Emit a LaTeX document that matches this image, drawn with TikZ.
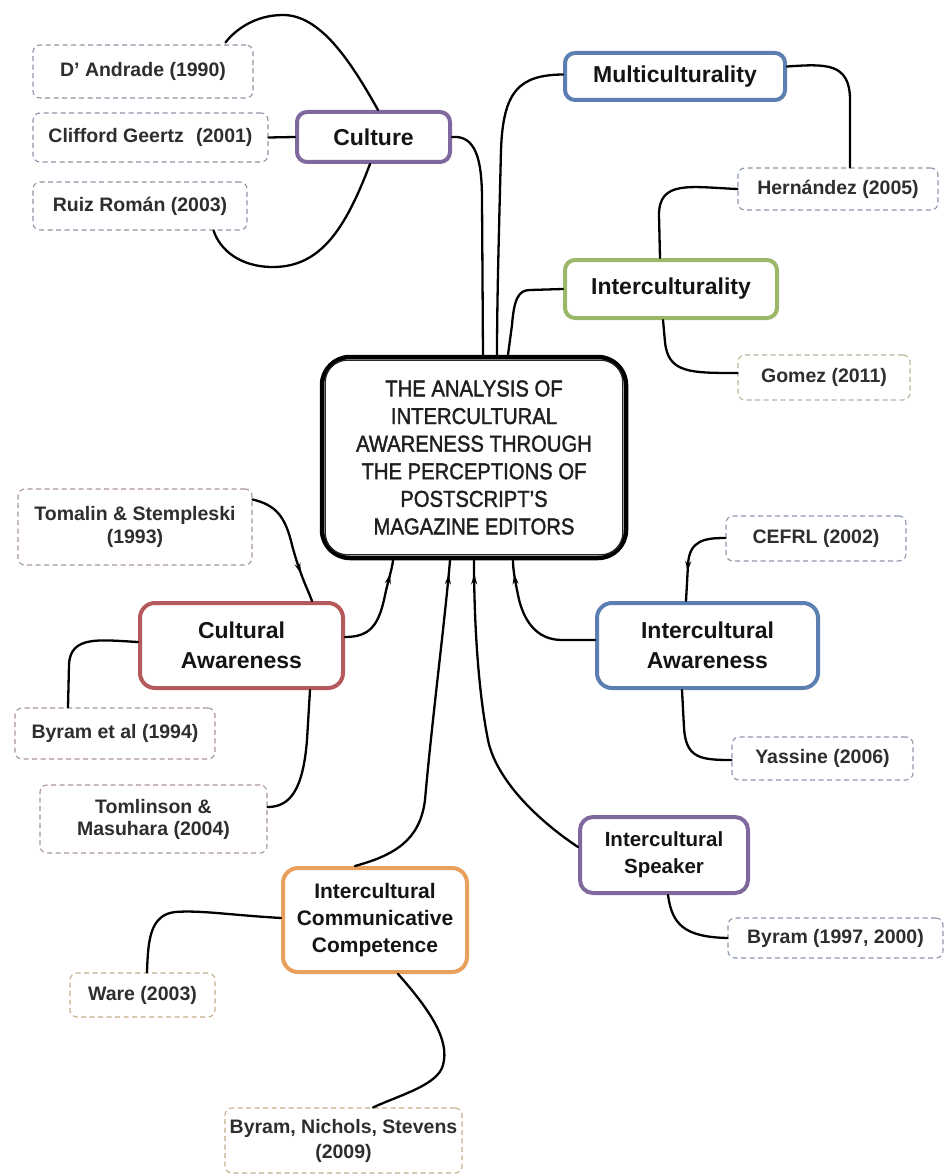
\documentclass[tikz,border=0pt]{standalone}
\usepackage{fontspec}
\setmainfont{Liberation Sans}
\newfontfamily\titlefont[FakeStretch=0.88,FakeBold=1.6]{Liberation Sans}
\usetikzlibrary{arrows.meta,decorations.markings}
\definecolor{cPurple}{RGB}{126,104,158}
\definecolor{cBlue}{RGB}{90,127,176}
\definecolor{cGreen}{RGB}{155,184,104}
\definecolor{cRed}{RGB}{180,90,92}
\definecolor{cOrange}{RGB}{232,160,92}
\definecolor{dPurple}{RGB}{150,144,168}
\definecolor{dBlue}{RGB}{138,152,170}
\definecolor{dGreen}{RGB}{184,180,150}
\definecolor{dRed}{RGB}{170,150,148}
\definecolor{dOrange}{RGB}{196,172,140}
\tikzset{
  topic/.style={draw, line width=4pt, rounded corners=10pt, fill=white, text=black!92,
    align=center, inner sep=2pt, font=\fontsize{23}{30}\selectfont\bfseries},
  cite/.style={draw, dash pattern=on 5pt off 3.5pt, line width=1.1pt, rounded corners=7pt,
    fill=white, text=black!82, align=center, inner sep=2pt,
    font=\fontsize{19.5}{23.5}\selectfont\bfseries},
  mainbox/.style={draw=black, line width=4.5pt, rounded corners=28pt, fill=white,
    align=center, inner sep=2pt, font=\titlefont\fontsize{23}{27.6}\selectfont, text=black!88},
  conn/.style={line width=2.3pt, black, line cap=round},
  connmk/.style={conn, postaction={decorate}, decoration={markings,
    mark=at position #1 with {\arrow{Stealth[length=10pt,width=6pt]}}}}
}
\begin{document}
\begin{tikzpicture}[x=1pt,y=-1pt]
\useasboundingbox[fill=white] (0,0) rectangle (945,1174);

% main node
\node[mainbox, minimum width=304pt, minimum height=201pt] (main) at (474,457.5)
  {THE ANALYSIS OF\\INTERCULTURAL\\AWARENESS THROUGH\\THE PERCEPTIONS OF\\POSTSCRIPT’S\\MAGAZINE EDITORS};
\draw[line width=1.2pt, rounded corners=22pt, black!85]
  ([shift={(5.5pt,-5.5pt)}]main.north west) rectangle ([shift={(-5.5pt,5.5pt)}]main.south east);

% topics
\node[topic, draw=cPurple, minimum width=153pt, minimum height=50pt] (culture) at (373.5,137) {Culture};
\node[topic, draw=cBlue, minimum width=220pt, minimum height=47pt] (multi) at (675,76.5) {Multiculturality};
\node[topic, draw=cGreen, minimum width=212pt, minimum height=58pt] (inter) at (671,289) {Interculturality};
\node[topic, draw=cRed, rounded corners=15pt, minimum width=203pt, minimum height=85pt] (ca) at (241.5,645.5) {Cultural\\Awareness};
\node[topic, draw=cBlue, rounded corners=15pt, minimum width=221pt, minimum height=85pt] (ia) at (707.5,645.5) {Intercultural\\Awareness};
\node[topic, draw=cPurple, rounded corners=13pt, minimum width=168pt, minimum height=76pt,
  font=\fontsize{20.5}{27}\selectfont\bfseries] (is) at (664,855) {Intercultural\\Speaker};
\node[topic, draw=cOrange, rounded corners=15pt, minimum width=184pt, minimum height=104pt,
  font=\fontsize{21}{27}\selectfont\bfseries] (icc) at (375,920) {Intercultural\\Communicative\\Competence};

% citations
\node[cite, draw=dPurple, minimum width=220pt, minimum height=53pt] (dand) at (143,71.5) {D’ Andrade (1990)};
\node[cite, draw=dPurple, minimum width=235pt, minimum height=49pt] (geertz) at (150.5,137.5) {Clifford Geertz\hspace{0.35em} (2001)};
\node[cite, draw=dPurple, minimum width=214pt, minimum height=48pt] (ruiz) at (140,206) {Ruiz Román (2003)};
\node[cite, draw=dBlue, minimum width=200pt, minimum height=42pt] (hern) at (838,189) {Hernández (2005)};
\node[cite, draw=dGreen, minimum width=172pt, minimum height=45pt] (gomez) at (824,377.5) {Gomez (2011)};
\node[cite, draw=dRed, minimum width=234pt, minimum height=76pt] (tomalin) at (135,527) {Tomalin \& Stempleski\\(1993)};
\node[cite, draw=dRed, minimum width=200pt, minimum height=51pt] (byetal) at (115,733.5) {Byram et al (1994)};
\node[cite, draw=dRed, minimum width=227pt, minimum height=68pt, font=\fontsize{19.5}{22}\selectfont\bfseries] (tomlinson) at (153.5,819) {Tomlinson \&\\Masuhara (2004)};
\node[cite, draw=dBlue, minimum width=180pt, minimum height=45pt] (cefrl) at (816,538.5) {CEFRL (2002)};
\node[cite, draw=dBlue, minimum width=181pt, minimum height=43pt] (yassine) at (822.5,758.5) {Yassine (2006)};
\node[cite, draw=dBlue, minimum width=215pt, minimum height=40pt] (byr97) at (835.5,938) {Byram (1997, 2000)};
\node[cite, draw=dOrange, minimum width=145pt, minimum height=44pt] (ware) at (142.5,995) {Ware (2003)};
\node[cite, draw=dOrange, minimum width=237pt, minimum height=65pt, font=\fontsize{19.5}{25}\selectfont\bfseries] (bns) at (343.5,1140.5) {Byram, Nichols, Stevens\\(2009)};

% connectors: Culture
\draw[conn] ([xshift=4.5pt]culture.north) .. controls (350,60) and (320,15) .. (283,15)
  .. controls (255,15) and (235,30) .. ([xshift=-28pt,yshift=2pt]dand.north east);
\draw[conn] ([xshift=-3.5pt]culture.south) .. controls (345,230) and (320,267) .. (273,267)
  .. controls (240,267) and (220,250) .. ([xshift=-34pt]ruiz.south east);
\draw[conn] (geertz.east) -- (culture.west);
\draw[conn] (culture.east) .. controls (476,135) and (482,160) .. (482,200) -- ([xshift=9pt]main.north);

% Multiculturality
\draw[conn] ([yshift=2pt]multi.west) .. controls (520,75) and (503,90) .. (501,150)
  .. controls (499,230) and (497,300) .. ([xshift=23pt]main.north);
\draw[conn] ([yshift=10pt]multi.east) .. controls (825,64) and (850,62) .. (850,100) -- ([xshift=12pt]hern.north);

% Interculturality
\draw[conn] (hern.west) .. controls (690,187) and (659,180) .. (659,215) -- ([xshift=-11pt]inter.north);
\draw[conn] ([xshift=-8pt]inter.south) -- (665,342) .. controls (668,373) and (690,373) .. ([yshift=4.5pt]gomez.west);
\draw[conn] (inter.west) -- (530,290) .. controls (518,290) and (514,300) .. (512,325) -- ([xshift=34pt]main.north);

% Cultural Awareness
\draw[connmk=-30pt] ([yshift=-11pt]tomalin.north east) .. controls (275,505) and (285,515) .. (292,545)
  .. controls (300,575) and (308,590) .. ([xshift=70.5pt]ca.north);
\draw[conn] ([yshift=3.5pt]ca.west) .. controls (100,640) and (70,635) .. (69,665) -- ([xshift=-47pt]byetal.north);
\draw[conn] ([xshift=68.5pt]ca.south) -- (307,740) .. controls (303,790) and (290,807) .. ([yshift=12pt]tomlinson.east);
\draw[connmk=-14pt] ([yshift=8.5pt]ca.east) .. controls (370,637) and (378,625) .. (384,600)
  .. controls (388,580) and (392,570) .. ([xshift=-81pt]main.south);

% Intercultural Awareness
\draw[connmk=-30pt] ([yshift=0.5pt]cefrl.west) .. controls (705,538) and (689,540) .. (688,565) -- ([xshift=-21.5pt]ia.north);
\draw[connmk=-14pt] ([yshift=5.5pt]ia.west) -- (562,640) .. controls (536,640) and (523,620) .. (518,595)
  .. controls (515,580) and (513,570) .. ([xshift=39pt]main.south);
\draw[conn] ([xshift=-25.5pt]ia.south) -- (684,728) .. controls (686,758) and (700,760) .. ([yshift=-1.5pt]yassine.west);

% Intercultural Speaker
\draw[connmk=-14pt] ([yshift=8pt]is.west) .. controls (530,815) and (495,775) .. (488,740)
  .. controls (478,690) and (474,620) .. (main.south);
\draw[conn] ([xshift=4pt]is.south) .. controls (672,925) and (685,937) .. (byr97.west);

% Intercultural Communicative Competence
\draw[connmk=-14pt] ([xshift=-20pt]icc.north) .. controls (395,855) and (420,840) .. (425,800)
  .. controls (432,720) and (445,620) .. ([xshift=-24pt]main.south);
\draw[conn] ([yshift=2pt]icc.west) .. controls (230,915) and (200,910) .. (175,912)
  .. controls (150,915) and (148,940) .. ([xshift=4.5pt]ware.north);
\draw[conn] ([xshift=23pt]icc.south) .. controls (430,1010) and (450,1040) .. (443,1065)
  .. controls (438,1085) and (400,1095) .. ([xshift=29.5pt]bns.north);
\end{tikzpicture}
\end{document}
